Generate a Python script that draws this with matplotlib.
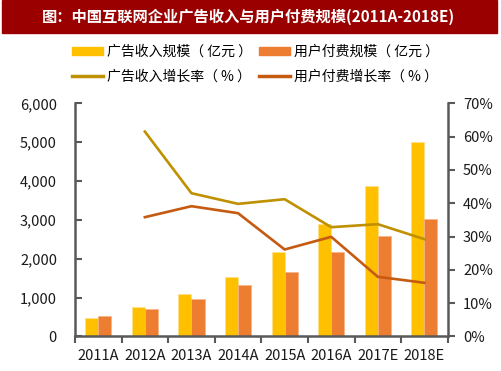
import numpy as np
import matplotlib
matplotlib.use("Agg")
import matplotlib.pyplot as plt
from matplotlib.patches import Rectangle, Patch
from matplotlib.lines import Line2D
from matplotlib.ticker import FuncFormatter

plt.rcParams['font.family'] = ['Noto Sans CJK SC', 'DejaVu Sans']

# data
years = ["2011A", "2012A", "2013A", "2014A", "2015A", "2016A", "2017E", "2018E"]
ad_revenue = [480, 756, 1098, 1527, 2162, 2882, 3875, 5015]      # 亿元
user_paid = [520, 700, 961, 1330, 1663, 2178, 2581, 3010]        # 亿元
ad_growth = [np.nan, 61.5, 43.0, 39.8, 41.2, 32.8, 33.7, 29.2]   # %
user_growth = [np.nan, 35.8, 39.1, 37.0, 26.1, 29.9, 17.9, 16.1] # %

c_ad = "#FFC000"
c_user = "#ED7D31"
c_adg = "#BF9000"
c_userg = "#C55A11"
spine_c = "#595959"

fig = plt.figure(figsize=(5.01, 3.71), dpi=100)

# title bar
fig.patches.append(Rectangle((2 / 501, 1 - 33 / 371), 495 / 501, 33 / 371,
                             transform=fig.transFigure, color="#9B0000", zorder=0))
fig.text(0.495, 1 - 17 / 371, "图：中国互联网企业广告收入与用户付费规模(2011A-2018E)",
         color="white", fontsize=11, fontweight="bold", ha="center", va="center")

ax = fig.add_axes([75 / 501, 1 - 336.4 / 371, (447.7 - 75) / 501, (336.4 - 103.3) / 371])
x = np.arange(len(years))
w = 0.28
ax.bar(x - w / 2, ad_revenue, w, color=c_ad, edgecolor="#FFE08A", linewidth=0.5, zorder=2)
ax.bar(x + w / 2, user_paid, w, color=c_user, edgecolor="#F5B38A", linewidth=0.5, zorder=2)
ax.set_xlim(-0.5, len(years) - 0.5)
ax.set_ylim(0, 6000)
ax.set_yticks(range(0, 6001, 1000))
ax.yaxis.set_major_formatter(FuncFormatter(lambda v, p: f"{int(v):,}"))
ax.set_xticks(x)
ax.set_xticklabels(years)
ax.set_xticks(np.arange(-0.5, len(years), 1), minor=True)
ax.tick_params(axis="x", which="major", length=0, pad=9, labelsize=10.5, colors="#1a1a1a")
ax.tick_params(axis="x", which="minor", length=5, width=1.5, direction="out", color=spine_c)
ax.tick_params(axis="y", direction="in", length=5, width=1.5, color=spine_c,
               pad=13, labelsize=10.5, labelcolor="#1a1a1a")
for s in ["top", "right"]:
    ax.spines[s].set_visible(False)
for s in ["left", "bottom"]:
    ax.spines[s].set_color(spine_c)
    ax.spines[s].set_linewidth(1.8)

ax2 = ax.twinx()
ax2.plot(x, ad_growth, color=c_adg, lw=1.9, zorder=3)
ax2.plot(x, user_growth, color=c_userg, lw=1.9, zorder=3)
ax2.set_ylim(0, 70)
ax2.set_yticks(range(0, 71, 10))
ax2.yaxis.set_major_formatter(FuncFormatter(lambda v, p: f"{int(v)}%"))
ax2.tick_params(axis="y", direction="out", length=5, width=1.5, color=spine_c,
                pad=6, labelsize=10.5, labelcolor="#1a1a1a")
for s in ["top", "left", "bottom"]:
    ax2.spines[s].set_visible(False)
ax2.spines["right"].set_color(spine_c)
ax2.spines["right"].set_linewidth(1.8)

handles = [
    Patch(color=c_ad, label="广告收入规模（ 亿元 ）"),
    Line2D([], [], color=c_adg, lw=2.5, label="广告收入增长率（ % ）"),
    Patch(color=c_user, label="用户付费规模（ 亿元 ）"),
    Line2D([], [], color=c_userg, lw=2.5, label="用户付费增长率（ % ）"),
]
fig.legend(handles=handles, ncol=2, loc="center", bbox_to_anchor=(0.51, 1 - 64 / 371),
           frameon=False, fontsize=10, handlelength=2.2, handleheight=0.5,
           columnspacing=0.5, handletextpad=0.3, labelspacing=0.75)

fig.savefig("out.png", dpi=100)
